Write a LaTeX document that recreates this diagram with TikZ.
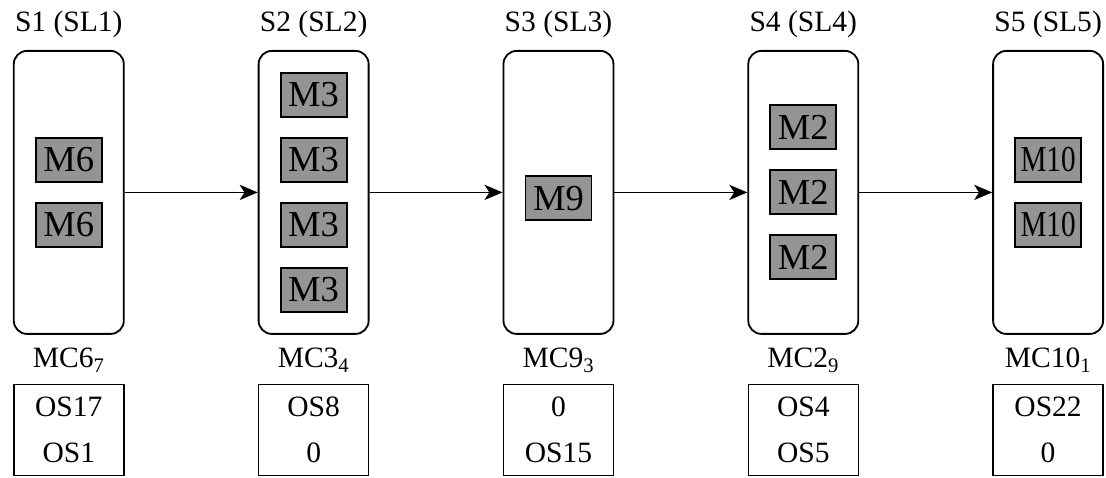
\documentclass[tikz,border=0pt]{standalone}
\usepackage{fontspec}
\setmainfont{Liberation Serif}
\usetikzlibrary{calc,positioning,arrows.meta}

\begin{document}
\begin{tikzpicture}[
    station/.style={draw=black, line width=1.3pt, rounded corners=0.33cm,
      minimum width=2.75cm, minimum height=7.075cm},
    mbox/.style={draw=black, line width=1.3pt, fill=black!42, inner sep=0pt,
      minimum width=1.65cm, minimum height=1.1cm, font=\fontsize{26}{28}\selectfont},
    osbox/.style={draw=black, line width=1pt, align=center,
      minimum width=2.75cm, minimum height=2.275cm, font=\fontsize{21}{33}\selectfont},
    label/.style={font=\fontsize{21}{25}\selectfont, inner sep=0pt},
    flow/.style={-{Stealth[length=0.45cm, width=0.38cm, inset=0.12cm]}, line width=1.1pt}
  ]
  \useasboundingbox (0,0) rectangle (27.65,-11.95);

  \node[station] (s1) at (1.72,-4.81) {};
  \node[station, right=3.325cm of s1] (s2) {};
  \node[station, right=3.325cm of s2] (s3) {};
  \node[station, right=3.325cm of s3] (s4) {};
  \node[station, right=3.325cm of s4] (s5) {};

  \node[label, above=0.45cm of s1, anchor=base] (t1) {S1 (SL1)};
  \node[label, above=0.45cm of s2, anchor=base] (t2) {S2 (SL2)};
  \node[label, above=0.45cm of s3, anchor=base] (t3) {S3 (SL3)};
  \node[label, above=0.45cm of s4, anchor=base] (t4) {S4 (SL4)};
  \node[label, above=0.45cm of s5, anchor=base] (t5) {S5 (SL5)};

  % machines in each station
  \node[mbox] (m11) at ($(s1)+(0,0.8125)$) {M6};
  \node[mbox] (m12) at ($(s1)+(0,-0.8125)$) {M6};

  \node[mbox] (m21) at ($(s2)+(0,2.4375)$) {M3};
  \node[mbox] (m22) at ($(s2)+(0,0.8125)$) {M3};
  \node[mbox] (m23) at ($(s2)+(0,-0.8125)$) {M3};
  \node[mbox] (m24) at ($(s2)+(0,-2.4375)$) {M3};

  \node[mbox] (m31) at ($(s3)+(0,-0.15)$) {M9};

  \node[mbox] (m41) at ($(s4)+(0,1.625)$) {M2};
  \node[mbox] (m42) at (s4) {M2};
  \node[mbox] (m43) at ($(s4)+(0,-1.625)$) {M2};

  \node[mbox] (m51) at ($(s5)+(0,0.8125)$) {\scalebox{0.8}[1]{M10}};
  \node[mbox] (m52) at ($(s5)+(0,-0.8125)$) {\scalebox{0.8}[1]{M10}};

  \node[label, below=0.825cm of s1, anchor=base] (c1) {MC6\textsubscript{7}};
  \node[label, below=0.825cm of s2, anchor=base] (c2) {MC3\textsubscript{4}};
  \node[label, below=0.825cm of s3, anchor=base] (c3) {MC9\textsubscript{3}};
  \node[label, below=0.825cm of s4, anchor=base] (c4) {MC2\textsubscript{9}};
  \node[label, below=0.825cm of s5, anchor=base] (c5) {MC10\textsubscript{1}};

  \node[osbox, below=1.225cm of s1] (o1) {OS17\\OS1};
  \node[osbox, below=1.225cm of s2] (o2) {OS8\\0};
  \node[osbox, below=1.225cm of s3] (o3) {0\\OS15};
  \node[osbox, below=1.225cm of s4] (o4) {OS4\\OS5};
  \node[osbox, below=1.225cm of s5] (o5) {OS22\\0};

  \path[flow]
  (s1) edge (s2)
  (s2) edge (s3)
  (s3) edge (s4)
  (s4) edge (s5);
\end{tikzpicture}
\end{document}
